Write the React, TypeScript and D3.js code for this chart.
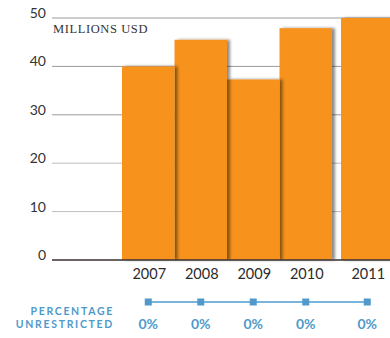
import * as d3 from "d3";

const WIDTH = 390;
const HEIGHT = 338;

const years = ["2007", "2008", "2009", "2010", "2011"];
const values = [40, 45.5, 37.3, 47.9, 50];
const unrestricted = ["0%", "0%", "0%", "0%", "0%"];
const yTicks = [0, 10, 20, 30, 40, 50];

const ORANGE = "#F7931E";
const BLUE = "#4F9ACB";
const LAST_GAP = 9; // the 2011 bar sits a little apart from the rest

export default function App() {
  const xScale = d3
    .scaleBand()
    .domain(years)
    .range([122, 384.5])
    .padding(0);

  const yScale = d3.scaleLinear().domain([0, 50]).range([260, 18]);

  const barX = (year: string) =>
    (xScale(year) || 0) + (year === "2011" ? LAST_GAP : 0);
  const barCenter = (year: string) => barX(year) + xScale.bandwidth() / 2;

  const grid = yTicks.map((t) => (
    <g key={t}>
      {t > 0 && (
        <line
          x1={52}
          x2={WIDTH}
          y1={yScale(t)}
          y2={yScale(t)}
          stroke={t >= 30 ? "#9a9a9a" : "#bdbdbd"}
          strokeWidth={1}
        />
      )}
      <text
        x={46}
        y={yScale(t)}
        textAnchor="end"
        fontSize={14}
        fill="#333"
        fontFamily="Lato, sans-serif"
      >
        {t}
      </text>
    </g>
  ));

  // drawn back to front so each bar's shadow falls on its right neighbour
  const bars = years
    .map((y, i) => (
      <rect
        key={y}
        x={barX(y)}
        y={yScale(values[i])}
        width={xScale.bandwidth()}
        height={yScale(0) - yScale(values[i])}
        fill={ORANGE}
        filter="url(#barShadow)"
      />
    ))
    .reverse();

  const first = barCenter(years[0]);
  const last = barCenter(years[years.length - 1]);

  return (
    <svg
      width={WIDTH}
      height={HEIGHT}
      style={{ position: "absolute", left: 0, top: 0, background: "#fff" }}
    >
      <defs>
        <filter id="barShadow" x="-10%" y="-10%" width="130%" height="120%">
          <feDropShadow
            dx={3}
            dy={0}
            stdDeviation={1.4}
            floodColor="#000"
            floodOpacity={0.45}
          />
        </filter>
      </defs>

      {grid}

      <text
        x={53}
        y={33}
        fontSize={12.5}
        letterSpacing={0.6}
        fill="#333"
        fontFamily="'Liberation Serif', 'DejaVu Serif', serif"
      >
        MILLIONS USD
      </text>

      {bars}

      <line
        x1={52}
        x2={WIDTH}
        y1={yScale(0)}
        y2={yScale(0)}
        stroke="#3a3030"
        strokeWidth={1.5}
      />

      {years.map((y) => (
        <text
          key={y}
          x={barCenter(y) + 1}
          y={279}
          textAnchor="middle"
          fontSize={14.5}
          fill="#2b2b2b"
          fontFamily="Lato, sans-serif"
        >
          {y}
        </text>
      ))}

      <line
        x1={first}
        x2={last}
        y1={302}
        y2={302}
        stroke="#7BB4DA"
        strokeWidth={2}
      />
      {years.map((y, i) => (
        <g key={y}>
          <rect
            x={barCenter(y) - 3.5}
            y={298.5}
            width={7}
            height={7}
            fill={BLUE}
          />
          <text
            x={barCenter(y)}
            y={323}
            textAnchor="middle"
            dominantBaseline="central"
            fontSize={14}
            fontWeight="bold"
            fill={BLUE}
            fontFamily="Lato, sans-serif"
          >
            {unrestricted[i]}
          </text>
        </g>
      ))}

      <text
        x={114}
        y={311}
        textAnchor="end"
        dominantBaseline="central"
        fontSize={10.5}
        fontWeight="bold"
        letterSpacing={1.7}
        fill={BLUE}
        fontFamily="Lato, sans-serif"
      >
        PERCENTAGE
      </text>
      <text
        x={114}
        y={324}
        textAnchor="end"
        dominantBaseline="central"
        fontSize={10.5}
        fontWeight="bold"
        letterSpacing={1.7}
        fill={BLUE}
        fontFamily="Lato, sans-serif"
      >
        UNRESTRICTED
      </text>
    </svg>
  );
}
